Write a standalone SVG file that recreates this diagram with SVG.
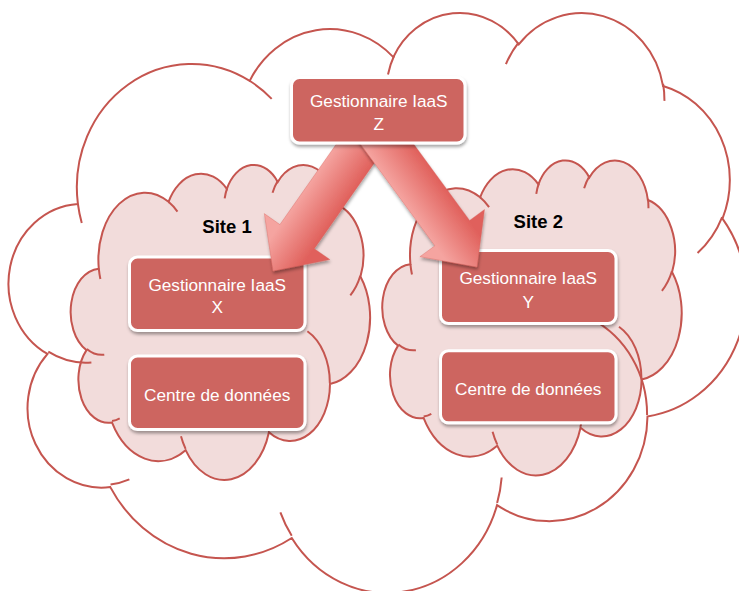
<svg xmlns="http://www.w3.org/2000/svg" width="739" height="591" viewBox="0 0 739 591">
<defs>
<style>
.site{fill:#f2dcdb;stroke:#c5554f;stroke-width:2}
.hook{fill:none;stroke:#c5554f;stroke-width:2}
.big{fill:none;stroke:#c5554f;stroke-width:2}
.box{fill:#cd6560;stroke:#ffffff;stroke-width:3;filter:url(#sh)}
.bt{font-family:"Liberation Sans",Arial,sans-serif;font-size:17.2px;fill:#ffffff;text-anchor:middle}
.st{font-family:"Liberation Sans",Arial,sans-serif;font-size:18.5px;font-weight:bold;fill:#000000;text-anchor:middle}
.arr{stroke:#d8615c;stroke-width:0.6;stroke-opacity:0.6;filter:url(#sh)}
</style>
<path id="co" vector-effect="non-scaling-stroke" d="M3900 14370A6753 9190 0 0 1 14005 5202A5333 7267 0 0 1 22456 3432A4365 5945 0 0 1 29833 2480A4857 6595 0 0 1 38318 5575A5333 7273 0 0 1 41818 15459A6775 9220 0 0 1 37405 30203A5785 7867 0 0 1 28556 36813A6752 9215 0 0 1 16481 39264A7720 10543 0 0 1 5805 35470A4360 5918 0 0 1 2114 25548A4345 5945 0 0 1 3900 14370Z"/>
<path id="ch" vector-effect="non-scaling-stroke" d="M4693 26177A4345 5945 0 0 1 2159 25380M6928 34899A4360 5918 0 0 1 5820 35280M16478 39090A6752 9215 0 0 1 15810 37350M28827 34751A6752 9215 0 0 1 28560 36660M34129 22954A5785 7867 0 0 1 37380 30090M41798 15354A5333 7273 0 0 1 40350 18030M38324 5426A4857 6595 0 0 1 38400 6690M29078 3952A4857 6595 0 0 1 29820 2341M22141 4720A4365 5945 0 0 1 22500 3330M14000 5192A6753 9190 0 0 1 15300 6540M4127 15789A6753 9190 0 0 1 3900 14371"/>
<filter id="sh" x="-15%" y="-15%" width="135%" height="140%">
<feDropShadow dx="0.6" dy="2.5" stdDeviation="1.6" flood-color="#000000" flood-opacity="0.35"/>
</filter>
<linearGradient id="g1" gradientUnits="userSpaceOnUse" x1="279.9" y1="224.6" x2="314.3" y2="248.7">
<stop offset="0" stop-color="#f5a4a0"/><stop offset="1" stop-color="#e0605b"/>
</linearGradient>
<linearGradient id="g2" gradientUnits="userSpaceOnUse" x1="434.9" y1="245.8" x2="469.6" y2="220.4">
<stop offset="0" stop-color="#f5a4a0"/><stop offset="1" stop-color="#e0605b"/>
</linearGradient>
</defs>

<g id="site1-cloud" transform="translate(71.9 163.9) scale(0.0069 0.00729)">
<use href="#co" class="site"/>
<use href="#ch" class="hook"/>
</g>
<g id="site2-cloud" transform="translate(383.5 159.4) scale(0.0069 0.00729)">
<use href="#co" class="site"/>
<use href="#ch" class="hook"/>
</g>
<g id="global-cloud" transform="translate(11.6 11.1) scale(0.0170 0.01342)">
<use href="#co" class="big"/>
<use href="#ch" class="hook"/>
</g>

<g id="site1-label"><text class="st" x="227" y="232.7">Site 1</text></g>
<g id="site2-label"><text class="st" x="538.3" y="228.3">Site 2</text></g>

<g id="node-x">
<rect class="box" x="129.5" y="257" width="175.5" height="73.5" rx="8"/>
<text class="bt" x="217.2" y="290.7">Gestionnaire IaaS</text>
<text class="bt" x="217.2" y="312.7">X</text>
</g>
<g id="node-dc1">
<rect class="box" x="129.5" y="356" width="175.5" height="73.5" rx="8"/>
<text class="bt" x="217.2" y="400.7">Centre de données</text>
</g>
<g id="node-y">
<rect class="box" x="440.5" y="250.5" width="175.5" height="73" rx="8"/>
<text class="bt" x="528.2" y="284">Gestionnaire IaaS</text>
<text class="bt" x="528.2" y="308.3">Y</text>
</g>
<g id="node-dc2">
<rect class="box" x="440.5" y="350.8" width="175.5" height="72" rx="8"/>
<text class="bt" x="528.2" y="395">Centre de données</text>
</g>

<g id="connectors">
<polygon class="arr" fill="url(#g1)" points="357.4,114 279.9,224.6 264.3,213.6 273,271 329.9,259.6 314.3,248.7 391.8,138.1"/>
<polygon class="arr" fill="url(#g2)" points="355.2,136.9 434.9,245.8 419.9,256.7 477,267 484.5,209.5 469.6,220.4 389.9,111.5"/>
</g>

<g id="node-z">
<rect class="box" x="291.5" y="77.5" width="173.5" height="65.5" rx="8"/>
<text class="bt" x="378.8" y="107.3">Gestionnaire IaaS</text>
<text class="bt" x="378.8" y="130">Z</text>
</g>
</svg>
